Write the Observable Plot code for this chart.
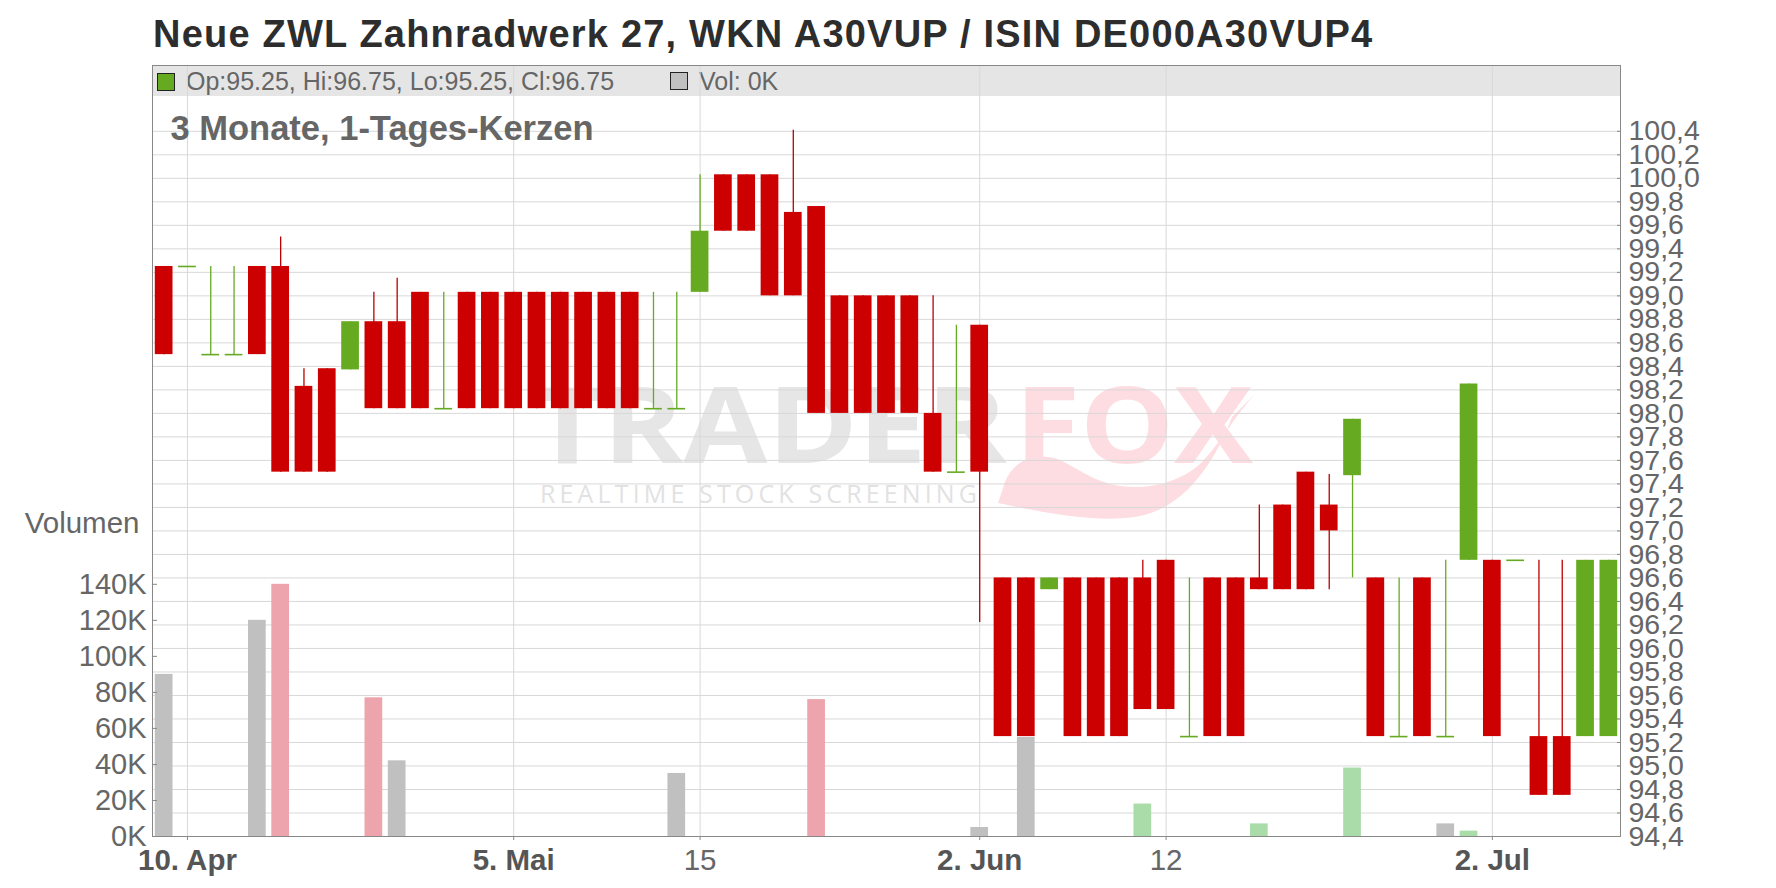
<!DOCTYPE html>
<html><head><meta charset="utf-8">
<script src="https://cdn.jsdelivr.net/npm/d3@7"></script>
<script src="https://cdn.jsdelivr.net/npm/@observablehq/plot@0.6"></script>
<style>
html,body{margin:0;padding:0;background:#fff;}
#wrap{position:relative;width:1776px;height:888px;overflow:hidden;font-family:"Liberation Sans",Arial,sans-serif;}
#title{position:relative;z-index:2;height:65px;box-sizing:border-box;padding:14.5px 0 0 153px;font-size:38px;line-height:38px;font-weight:bold;color:#2d2d2d;letter-spacing:1.2px;white-space:nowrap;}
#bar{position:absolute;left:152px;top:65px;width:1468px;height:31px;background:#e5e5e5;z-index:0;}
#wm{position:absolute;left:0;top:0;z-index:0;}
#chart{position:relative;z-index:1;}
.sw{position:absolute;width:16px;height:16px;border:1.5px solid #222;z-index:0;}
.lg{position:absolute;font-size:25px;line-height:25px;color:#666;white-space:nowrap;z-index:0;}
</style></head>
<body><div id="wrap">
<div id="title">Neue ZWL Zahnradwerk 27, WKN A30VUP / ISIN DE000A30VUP4</div>
<div id="bar"></div>
<svg id="wm" width="1776" height="888">
  <path d="M998,503 C1040,512 1100,524 1140,516 C1185,507 1215,462 1232,417 L1262,387 C1240,407 1222,442 1200,464 C1180,482 1150,490 1120,486 C1095,482 1080,470 1060,460 C1040,452 1015,457 1005,482 Z" fill="#fddde1"/>
  <text x="532" y="463" font-family="Open Sans, sans-serif" font-weight="bold" font-size="105" fill="#e6e6e6" textLength="475" lengthAdjust="spacingAndGlyphs">TRADER</text>
  <text x="1015" y="463" font-family="Open Sans, sans-serif" font-weight="bold" font-size="105" fill="#fddde1" textLength="238" lengthAdjust="spacingAndGlyphs">FOX</text>
  <text x="540" y="503" font-family="Open Sans, sans-serif" font-size="25" fill="#e2e2e2" textLength="437" lengthAdjust="spacing">REALTIME STOCK SCREENING</text>
</svg>
<div class="sw" id="sw1" style="left:157px;top:73px;background:#66aa22;"></div>
<div class="lg" id="lg1" style="left:186px;top:69.3px;"></div>
<div class="sw" id="sw2" style="left:670px;top:72px;background:#c0c0c0;"></div>
<div class="lg" id="lg2" style="left:699px;top:69.3px;"></div>
<div id="chart"></div>
</div>
<script>
const dates = ["2025-04-09","2025-04-10","2025-04-11","2025-04-14","2025-04-15","2025-04-16","2025-04-17","2025-04-22","2025-04-23","2025-04-24","2025-04-25","2025-04-28","2025-04-29","2025-04-30","2025-05-02","2025-05-05","2025-05-06","2025-05-07","2025-05-08","2025-05-09","2025-05-12","2025-05-13","2025-05-14","2025-05-15","2025-05-16","2025-05-19","2025-05-20","2025-05-21","2025-05-22","2025-05-23","2025-05-26","2025-05-27","2025-05-28","2025-05-29","2025-05-30","2025-06-02","2025-06-03","2025-06-04","2025-06-05","2025-06-06","2025-06-09","2025-06-10","2025-06-11","2025-06-12","2025-06-13","2025-06-16","2025-06-17","2025-06-18","2025-06-19","2025-06-20","2025-06-23","2025-06-24","2025-06-25","2025-06-26","2025-06-27","2025-06-30","2025-07-01","2025-07-02","2025-07-03","2025-07-04","2025-07-07","2025-07-08","2025-07-09"];
const open  = [99.25,99.25,98.5,98.5,99.25,99.25,98.23,98.38,98.37,98.78,98.78,99.03,98.04,99.03,99.03,99.03,99.03,99.03,99.03,99.03,99.03,98.04,98.04,99.03,100.03,100.03,100.03,99.71,99.76,99.0,99.0,99.0,99.0,98.0,97.5,98.75,96.6,96.6,96.5,96.6,96.6,96.6,96.6,96.75,95.25,96.6,96.6,96.6,97.22,97.5,97.22,97.47,96.6,95.25,96.6,95.25,96.75,96.75,96.75,95.25,95.25,95.25,95.25];
const high  = [99.25,99.25,99.25,99.25,99.25,99.5,98.38,98.38,98.78,99.03,99.15,99.03,99.03,99.03,99.03,99.03,99.03,99.03,99.03,99.03,99.03,99.03,99.03,100.03,100.03,100.03,100.03,100.41,99.76,99.0,99.0,99.0,99.0,99.0,98.75,98.75,96.6,96.6,96.6,96.6,96.6,96.6,96.75,96.75,96.6,96.6,96.6,97.22,97.22,97.5,97.48,97.95,96.6,96.6,96.6,96.75,98.25,96.75,96.75,96.75,96.75,96.75,96.75];
const low   = [98.5,99.25,98.5,98.5,98.5,97.5,97.5,97.5,98.37,98.04,98.04,98.04,98.04,98.04,98.04,98.04,98.04,98.04,98.04,98.04,98.04,98.04,98.04,99.03,99.55,99.55,99.0,99.0,98.0,98.0,98.0,98.0,98.0,97.5,97.5,96.22,95.25,95.25,96.5,95.25,95.25,95.25,95.48,95.48,95.25,95.25,95.25,96.5,96.5,96.5,96.5,96.6,95.25,95.25,95.25,95.25,96.75,95.25,96.75,94.75,94.75,95.25,95.25];
const close = [98.5,99.25,98.5,98.5,98.5,97.5,97.5,97.5,98.78,98.04,98.04,98.04,98.04,98.04,98.04,98.04,98.04,98.04,98.04,98.04,98.04,98.04,98.04,99.55,99.55,99.55,99.0,99.0,98.0,98.0,98.0,98.0,98.0,97.5,97.5,97.5,95.25,95.25,96.6,95.25,95.25,95.25,95.48,95.48,95.25,95.25,95.25,96.5,96.5,96.5,97.0,97.95,95.25,95.25,95.25,95.25,98.25,95.25,96.75,94.75,94.75,96.75,96.75];
const volumeK = [90,0,0,0,120,140,0,0,0,77,42,0,0,0,0,0,0,0,0,0,0,0,35,0,0,0,0,0,76,0,0,0,0,0,0,5,0,55,0,0,0,0,18,0,0,0,0,7,0,0,0,38,0,0,0,7,3,0,0,0,0,0,0];

const priceTicks = [94.4,94.6,94.8,95.0,95.2,95.4,95.6,95.8,96.0,96.2,96.4,96.6,96.8,97.0,97.2,97.4,97.6,97.8,98.0,98.2,98.4,98.6,98.8,99.0,99.2,99.4,99.6,99.8,100.0,100.2,100.4];
const volTicks = [0,20,40,60,80,100,120,140];
const volTickLabels = ["0K","20K","40K","60K","80K","100K","120K","140K"];
const xTickDates = ["2025-04-10","2025-05-05","2025-05-15","2025-06-02","2025-06-12","2025-07-02"];
const xTickLabels = ["10. Apr","5. Mai","15","2. Jun","12","2. Jul"];
const xTickBold = [true,true,false,true,false,true];

const RED = "#cc0000", GREEN = "#66aa22";
const VOL_UP = "#aadcaa", VOL_DOWN = "#eea4ac", VOL_FLAT = "#c0c0c0";

const priceMin = 94.4, priceMax = 100.96, volMax = 428;
const v2p = v => priceMin + v / volMax * (priceMax - priceMin);

const rows = dates.map((date, i) => ({
  date, open: open[i], high: high[i], low: low[i], close: close[i], vol: volumeK[i],
  up: close[i] >= open[i],
  volColor: i === 0 ? VOL_FLAT : (close[i] > close[i-1] ? VOL_UP : (close[i] < close[i-1] ? VOL_DOWN : VOL_FLAT))
}));

const last = rows[rows.length - 1];
document.getElementById("lg1").textContent =
  `Op:${last.open.toFixed(2)}, Hi:${last.high.toFixed(2)}, Lo:${last.low.toFixed(2)}, Cl:${last.close.toFixed(2)}`;
document.getElementById("lg2").textContent = `Vol: ${last.vol}K`;

const volPos = volTicks.map(v2p);
const volLabelMap = new Map(volPos.map((p, i) => [p, volTickLabels[i]]));
const xLabelMap = new Map(xTickDates.map((d, i) => [d, xTickLabels[i]]));
const boldDates = xTickDates.filter((d, i) => xTickBold[i]);
const normalDates = xTickDates.filter((d, i) => !xTickBold[i]);

const chart = Plot.plot({
  width: 1776, height: 823,
  marginTop: 0, marginBottom: 52, marginLeft: 152, marginRight: 156,
  style: {background: "transparent", fontFamily: "Liberation Sans, Arial, sans-serif", overflow: "visible"},
  x: {type: "band", domain: dates, paddingInner: 0.24, paddingOuter: 0.12, round: false, axis: null},
  y: {domain: [priceMin, priceMax], axis: null},
  marks: [
    Plot.gridY(priceTicks, {stroke: "#d8d8d8", strokeOpacity: 1}),
    Plot.gridX(xTickDates, {stroke: "#d8d8d8", strokeOpacity: 1}),
    Plot.barY(rows.filter(d => d.vol > 0), {x: "date", y1: priceMin, y2: d => v2p(d.vol), fill: d => d.volColor}),
    Plot.ruleX(rows, {x: "date", y1: "low", y2: "high", stroke: d => d.up ? GREEN : "#bb0000", strokeWidth: 1.3}),
    Plot.barY(rows.filter(d => d.open !== d.close), {x: "date", y1: "open", y2: "close", fill: d => d.up ? GREEN : RED}),
    Plot.tickY(rows.filter(d => d.open === d.close), {x: "date", y: "close", stroke: d => d.up ? GREEN : RED, strokeWidth: 1.6}),
    Plot.frame({stroke: "#888"}),
    Plot.axisY(priceTicks, {anchor: "right", tickSize: -4, tickPadding: 12, tickFormat: d => d.toFixed(1).replace(".", ","), fontSize: 28.5, stroke: "#888", fill: "#666", label: null}),
    Plot.axisY(volPos, {anchor: "left", tickSize: -5, tickPadding: 11, tickFormat: d => volLabelMap.get(d), fontSize: 29, stroke: "#888", fill: "#666", label: null}),
    Plot.axisX(boldDates, {anchor: "bottom", tickSize: 4, tickPadding: 9, tickFormat: d => xLabelMap.get(d), fontSize: 29.5, fontWeight: "bold", stroke: "#888", fill: "#555", label: null}),
    Plot.axisX(normalDates, {anchor: "bottom", tickSize: 4, tickPadding: 9, tickFormat: d => xLabelMap.get(d), fontSize: 29.5, stroke: "#888", fill: "#666", label: null}),
    Plot.text(["3 Monate, 1-Tages-Kerzen"], {frameAnchor: "top-left", lineAnchor: "top", dx: 18, dy: 50, textAnchor: "start", fontSize: 34.5, fontWeight: "bold", fill: "#666"}),
    Plot.text(["Volumen"], {frameAnchor: "top-left", lineAnchor: "top", dx: -13, dy: 446.7, textAnchor: "end", fontSize: 29.5, fill: "#666"})
  ]
});
document.getElementById("chart").appendChild(chart);
</script>
</body></html>
